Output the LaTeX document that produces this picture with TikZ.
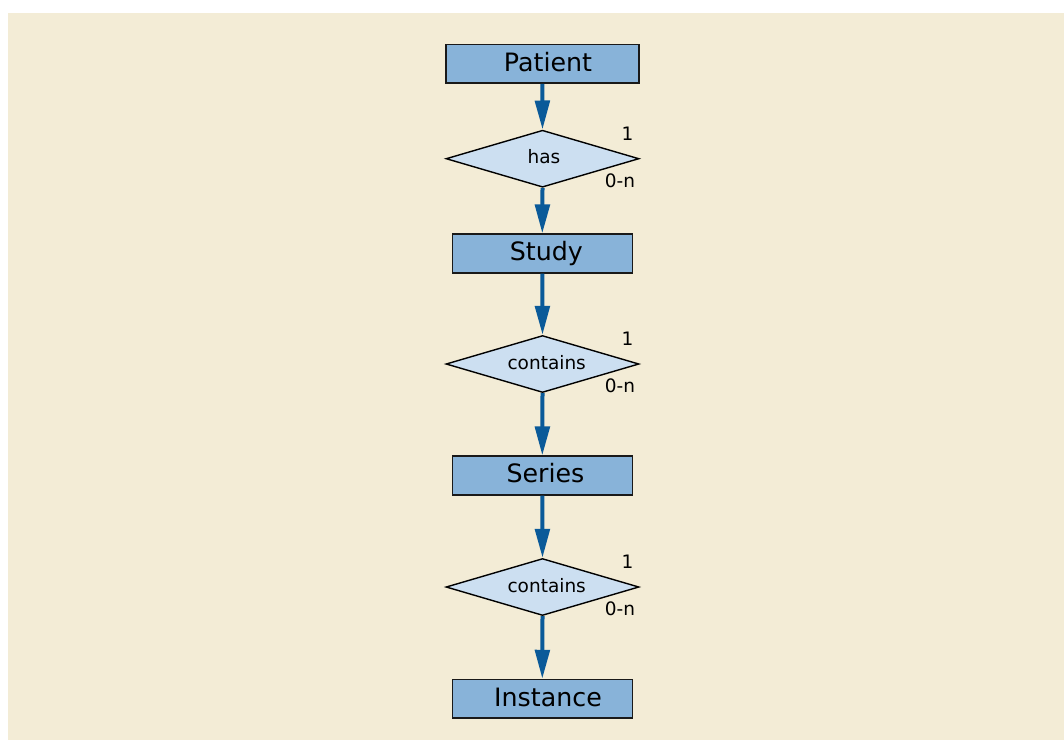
\documentclass[tikz,border=0pt]{standalone}
\usepackage{fontspec}
\setmainfont{DejaVu Sans}
\usetikzlibrary{arrows.meta,shapes.geometric}

\definecolor{paper}{HTML}{F3ECD6}
\definecolor{entityfill}{HTML}{88B3D9}
\definecolor{relfill}{HTML}{CCDFF1}
\definecolor{flowblue}{HTML}{0A5A99}

\tikzset{
  entity/.style={draw=black!90, line width=1.6pt, fill=entityfill,
    minimum width=180pt, minimum height=38.5pt, inner sep=0pt,
    font=\fontsize{25.3}{30}\selectfont, text height=18.4pt, text depth=4pt},
  relation/.style={diamond, aspect=3.4, draw=black, line width=1.4pt, fill=relfill,
    minimum width=193pt, minimum height=57pt, inner sep=0pt,
    font=\fontsize{18.5}{22}\selectfont, text height=12.5pt, text depth=2pt},
  card/.style={anchor=base, inner sep=0pt, font=\fontsize{18.5}{22}\selectfont},
  flow/.style={draw=flowblue, line width=4pt,
    -{Triangle[length=29pt,width=14.5pt]}},
}

\begin{document}
\begin{tikzpicture}[x=1pt,y=-1pt]
  \useasboundingbox (0,0) rectangle (1064,740);
  \fill[white] (0,0) rectangle (1064,740);
  \fill[paper] (8,13) rectangle (1064,740);

  % entities and relationships, top to bottom
  \node[entity, minimum width=193pt] (patient) at (542.3,63.8) {\hspace*{11.4pt}Patient};
  \node[relation] (has) at (542.5,158.7) {\hspace*{3pt}has};
  \node[entity] (study) at (542.3,253.5) {\hspace*{8pt}Study};
  \node[relation] (contains1) at (542.5,364) {\hspace*{8.4pt}contains};
  \node[entity] (series) at (542.3,475.5) {\hspace*{6.4pt}Series};
  \node[relation] (contains2) at (542.5,587) {\hspace*{8.4pt}contains};
  \node[entity] (instance) at (542.3,698.8) {\hspace*{11.4pt}Instance};

  % cardinalities
  \node[card] (hasone)  at (627.5,140.3) {1};
  \node[card] (hasmany) at (620,187.3) {0-n};
  \node[card] (conaone)  at (627.5,345.6) {1};
  \node[card] (conamany) at (620,392.6) {0-n};
  \node[card] (conbone)  at (627.5,568.6) {1};
  \node[card] (conbmany) at (620,615.6) {0-n};

  % connectors
  \draw[flow] (patient.south) -- (has.north);
  \draw[flow] (has.south) -- (study.north);
  \draw[flow] (study.south) -- (contains1.north);
  \draw[flow] (contains1.south) -- (series.north);
  \draw[flow] (series.south) -- (contains2.north);
  \draw[flow] (contains2.south) -- (instance.north);
\end{tikzpicture}
\end{document}
